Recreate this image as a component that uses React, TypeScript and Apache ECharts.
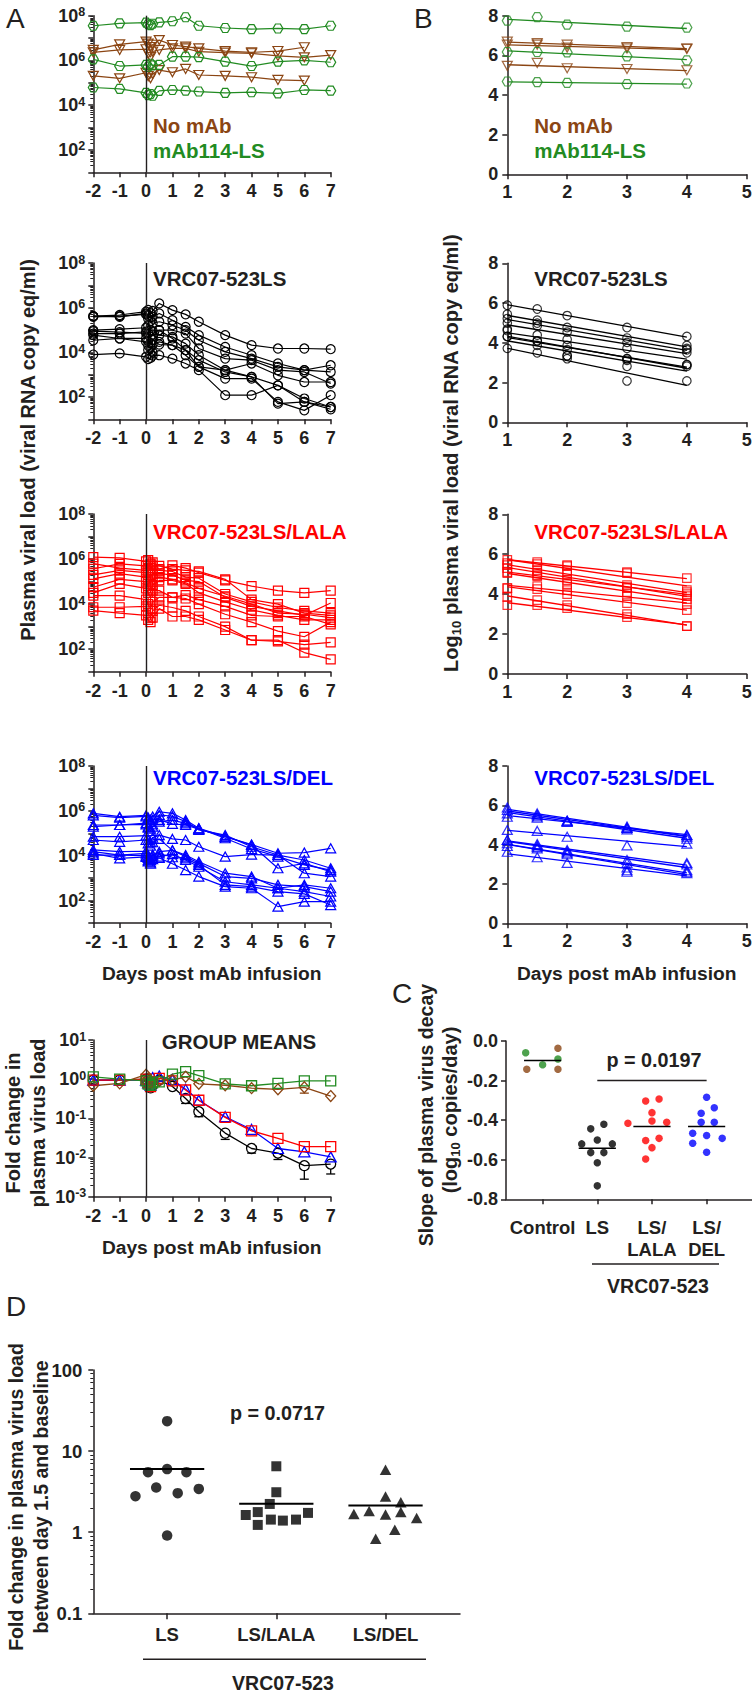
import React, { useEffect, useRef } from 'react';
import * as echarts from 'echarts';

// ---------------- data (log10 viral load per animal) ----------------
const TIMES = [-2, -1, 0, 0.08, 0.17, 0.25, 0.5, 1, 1.5, 2, 3, 4, 5, 6, 7];
const FIT_DAYS = [1, 1.5, 2, 3, 4];
const A_X_TICKS = [-2, 7];
const B_X_RANGE = [1, 5];

const NO_MAB: (number | null)[][] = [
  [6.47, 6.72, 6.84, 6.75, 6.6, 6.7, 6.91, 6.69, 6.62, 6.54, 6.42, 6.36, 6.42, 6.59, null],
  [6.36, 6.47, 6.5, 6.3, 6.15, 6.4, 6.47, 6.54, 6.54, 6.39, 6.35, 6.32, 6.2, 6.14, 6.24],
  [5.31, 5.2, 5.45, 5.3, 5.2, 5.4, 5.57, 5.47, 5.62, 5.35, 5.31, 5.25, 5.13, 5.1, null],
];
const MAB114: (number | null)[][] = [
  [7.55, 7.66, 7.69, 7.62, 7.58, 7.64, 7.7, 7.75, 7.93, 7.55, 7.45, 7.4, 7.43, 7.4, 7.55],
  [6.05, 5.75, 5.8, 5.72, 5.85, 5.78, 5.8, 6.17, 6.17, 6.15, 5.95, 5.75, 5.95, 6.0, 5.92],
  [4.79, 4.73, 4.55, 4.45, 4.5, 4.42, 4.64, 4.68, 4.65, 4.61, 4.55, 4.58, 4.53, 4.68, 4.65],
];
const VRC_LS: (number | null)[][] = [
  [5.62, 5.67, 5.82, 5.9, 5.75, 5.85, 6.19, 5.89, 5.7, 5.37, 4.77, 4.32, 4.17, 4.17, 4.14],
  [5.62, 5.59, 5.74, 5.65, 5.55, 5.6, 5.74, 5.44, 5.14, 4.77, 4.24, 3.87, 3.5, 3.2, 3.12],
  [5.59, 5.62, 5.7, 5.5, 5.4, 5.3, 5.37, 5.22, 4.99, 4.54, 4.02, 3.72, 3.35, 3.2, 3.42],
  [4.99, 5.04, 5.1, 5.2, 5.0, 4.95, 4.99, 4.99, 4.84, 4.17, 3.72, 3.65, 3.2, 3.12, 2.6],
  [4.84, 4.84, 4.92, 4.85, 4.7, 4.8, 4.77, 4.69, 4.39, 3.87, 3.2, 3.5, 2.97, 2.67, 2.67],
  [4.77, 4.62, 4.62, 4.5, 4.4, 4.55, 4.35, 4.32, 4.1, 3.65, 3.12, 2.9, 2.52, 1.93, 1.55],
  [4.54, 4.62, 4.47, 4.3, 4.2, 4.35, 4.47, 4.32, 3.87, 3.35, 2.82, 2.82, 1.78, 1.4, 2.08],
  [3.9, 3.95, 3.8, 3.7, 3.75, 3.85, 3.87, 3.72, 3.5, 3.2, 2.08, 2.08, 2.52, 1.78, 1.45],
  [4.95, 4.9, 4.85, 4.1, 3.9, 4.0, 4.99, 4.62, 4.1, 3.35, 3.2, 2.9, 1.7, 1.78, 1.55],
];
const VRC_LALA: (number | null)[][] = [
  [6.09, 6.05, 5.9, 5.95, 5.8, 5.85, 5.55, 5.72, 5.6, 5.4, 5.05, 4.8, 4.6, 4.5, 4.6],
  [5.57, 5.79, 5.7, 5.6, 5.75, 5.5, 5.5, 5.45, 5.2, 5.15, 4.45, 4.1, 3.85, 3.7, 3.6],
  [5.3, 5.5, 5.4, 5.3, 5.2, 5.35, 5.35, 5.3, 5.05, 5.0, 4.3, 3.9, 3.7, 3.5, 4.05],
  [5.12, 5.35, 5.2, 5.05, 4.9, 5.1, 5.2, 5.1, 4.95, 4.7, 4.35, 4.0, 3.6, 3.55, 3.4],
  [4.75, 5.1, 5.0, 4.8, 4.6, 4.85, 5.05, 5.05, 4.9, 4.5, 4.1, 3.75, 3.5, 3.3, 3.3],
  [4.5, 4.9, 4.7, 4.5, 4.3, 4.6, 4.6, 4.3, 4.25, 4.0, 3.55, 3.2, 2.8, 2.55, 3.2],
  [4.38, 4.38, 4.2, 4.0, 3.8, 4.1, 4.3, 4.3, 4.4, 4.2, 3.9, 3.5, 3.45, 3.45, 3.1],
  [3.86, 3.86, 3.9, 3.6, 3.4, 3.7, 3.95, 3.85, 3.7, 3.45, 3.0, 2.4, 2.35, 2.2, 2.3],
  [3.71, 3.6, 3.5, 3.3, 3.2, 3.4, 3.8, 3.45, 3.45, 3.3, 2.85, 2.4, 2.4, 1.85, 1.55],
  [5.8, 5.6, 5.5, 5.4, 5.6, 5.7, 5.7, 5.55, 5.5, 5.45, 5.1, 4.2, 4.0, 3.6, 3.5],
];
const VRC_DEL: (number | null)[][] = [
  [5.89, 5.74, 5.8, 5.7, 5.6, 5.75, 5.96, 5.89, 5.59, 5.22, 4.85, 4.5, 4.11, 4.14, 4.33],
  [5.8, 5.7, 5.75, 5.65, 5.5, 5.6, 5.82, 5.76, 5.52, 5.15, 4.92, 4.4, 4.03, 3.81, 3.44],
  [5.37, 5.37, 5.45, 5.3, 5.2, 5.4, 5.52, 5.59, 5.44, 5.22, 4.78, 4.3, 3.96, 3.59, 3.36],
  [5.3, 5.37, 5.4, 5.25, 5.1, 5.3, 5.6, 5.42, 5.37, 5.18, 4.85, 4.48, 3.44, 3.66, 3.29],
  [4.85, 4.85, 4.9, 4.7, 4.6, 4.8, 4.92, 4.75, 4.7, 4.4, 3.96, 4.05, 4.03, 3.22, 3.07],
  [4.18, 4.03, 4.1, 3.9, 3.8, 4.0, 4.18, 4.24, 3.96, 3.66, 3.07, 2.99, 2.7, 2.62, 2.4],
  [4.03, 4.03, 4.0, 3.8, 3.7, 3.9, 3.96, 4.07, 3.81, 3.51, 2.84, 2.7, 2.55, 2.4, 2.18],
  [4.1, 3.88, 3.95, 3.75, 3.65, 3.85, 3.9, 3.64, 3.36, 3.07, 2.62, 2.55, 1.73, 1.95, 1.95],
  [4.26, 4.18, 4.2, 4.0, 3.85, 4.05, 4.1, 3.93, 3.88, 3.59, 2.7, 2.62, 2.4, 2.3, 1.8],
  [4.7, 4.62, 4.7, 4.55, 4.45, 4.6, 4.75, 4.24, 4.03, 3.73, 3.22, 3.07, 2.55, 2.7, 2.55],
];

// group means (fold change vs baseline), aligned with TIMES
const GM_LS = [0.95, 0.95, 1.0, 0.75, 0.6, 0.7, 0.95, 0.65, 0.32, 0.148, 0.042, 0.017, 0.013, 0.0062, 0.0068];
const GM_LS_LOW = [null, null, null, null, null, null, null, null, 0.24, 0.11, 0.029, 0.013, 0.0089, 0.0028, 0.0038];
const GM_LALA = [0.95, 0.95, 1.0, 0.8, 0.65, 0.85, 1.05, 0.9, 0.53, 0.29, 0.106, 0.048, 0.031, 0.019, 0.019];
const GM_DEL = [0.95, 0.95, 0.95, 0.8, 0.7, 1.1, 1.2, 0.97, 0.55, 0.29, 0.11, 0.052, 0.017, 0.014, 0.0104];
const GM_MAB114 = [1.15, 1.0, 0.9, 0.75, 0.7, 0.8, 0.85, 1.35, 1.55, 1.23, 0.76, 0.68, 0.78, 0.91, 0.91];
const GM_NOMAB = [0.68, 0.78, 1.3, 1.05, 0.9, 0.85, 0.9, 0.95, 1.15, 0.76, 0.7, 0.59, 0.55, 0.62, 0.37];
const GM_NOMAB_LOW = [null, null, null, null, null, null, null, null, null, null, null, null, null, 0.44, null];

// panel C: slope of decay (log10 copies/day)
const C_CATEGORIES = ['Control', 'LS', 'LS/\nLALA', 'LS/\nDEL'];
const C_CTRL_GREEN = [-0.059, -0.12, -0.091];
const C_CTRL_GREEN_JIT = [-0.31, 0, 0.28];
const C_CTRL_BROWN = [-0.037, -0.143, -0.143];
const C_CTRL_BROWN_JIT = [0.28, -0.29, 0.28];
const C_LS = [-0.444, -0.421, -0.52, -0.5, -0.52, -0.564, -0.564, -0.615, -0.732];
const C_LS_JIT = [-0.12, 0.12, -0.285, 0, 0.275, -0.12, 0.12, 0, 0];
const C_LALA = [-0.303, -0.293, -0.362, -0.416, -0.404, -0.411, -0.503, -0.492, -0.539, -0.596];
const C_LALA_JIT = [-0.115, 0.13, 0, -0.44, 0, 0.27, -0.115, 0.13, 0, -0.115];
const C_DEL = [-0.284, -0.337, -0.365, -0.411, -0.411, -0.466, -0.478, -0.492, -0.517, -0.562];
const C_DEL_JIT = [0, 0.14, -0.1, -0.1, 0.14, -0.255, 0, 0.285, -0.255, 0];
const C_P = 'p = 0.0197';

// panel D: fold change between day 1.5 and baseline
const D_CATEGORIES = ['LS', 'LS/LALA', 'LS/DEL'];
const D_LS = [23.4, 5.5, 6.0, 5.5, 2.78, 3.55, 3.03, 3.42, 0.91];
const D_LS_JIT = [0, -0.175, 0, 0.177, -0.29, -0.1, 0.097, 0.29, 0];
const D_LALA = [6.5, 3.11, 2.23, 1.63, 1.77, 1.23, 1.43, 1.39, 1.43, 1.73];
const D_LALA_JIT = [0, 0, -0.06, -0.28, -0.17, -0.17, -0.05, 0.06, 0.18, 0.29];
const D_DEL = [5.9, 2.75, 2.34, 1.68, 1.82, 1.65, 1.77, 1.5, 1.07, 0.83];
const D_DEL_JIT = [0, 0, 0.14, -0.29, -0.15, 0, 0.14, 0.285, 0.085, -0.09];
const D_P = 'p = 0.0717';

// ---------------- styling ----------------
const INK = '#231f20';
const GREEN = '#228b22';
const BROWN = '#8b4513';
const RED = '#ff0000';
const BLUE = '#0000ff';
const BLACK = '#000000';
const FONT = 'Arial, "Liberation Sans", Helvetica, sans-serif';
const HEX = 'path://M2.6,0 L7.4,0 L10,5 L7.4,10 L2.6,10 L0,5 Z';
const DOWN = 'path://M0,0 L10,0 L5,9 Z';
const CLEAR = 'rgba(255,255,255,0)';

const AX = { color: INK, width: 1.5 };

const SUP_RICH = {
  b: { fontSize: 18, fontWeight: 'bold', fontFamily: FONT, color: INK, lineHeight: 20, verticalAlign: 'middle' },
  s: { fontSize: 12.5, fontWeight: 'bold', fontFamily: FONT, color: INK, lineHeight: 14, verticalAlign: 'top' },
};

function xVal(gridIndex: number, min: number, max: number, interval: number, margin: number) {
  return {
    type: 'value', gridIndex, min, max, interval,
    axisLine: { show: true, onZero: false, lineStyle: AX },
    axisTick: { show: true, length: 5, lineStyle: AX },
    axisLabel: { color: INK, fontFamily: FONT, fontWeight: 'bold', fontSize: 18, margin },
    splitLine: { show: false },
  };
}

function yLog(gridIndex: number, min: number, max: number, every: number, margin = 8) {
  return {
    type: 'log', logBase: 10, gridIndex, min, max,
    axisLine: { show: true, onZero: false, lineStyle: AX },
    axisTick: { show: true, length: 5, lineStyle: AX },
    minorTick: { show: true, splitNumber: 9, length: 3, lineStyle: { color: INK, width: 1 } },
    splitLine: { show: false },
    minorSplitLine: { show: false },
    axisLabel: {
      margin, color: INK, fontFamily: FONT, fontWeight: 'bold', fontSize: 18,
      formatter: (v: number) => {
        const e = Math.round(Math.log10(v));
        if (every === 2 && e % 2 !== 0) return '';
        return `{b|10}{s|${e}}`;
      },
      rich: SUP_RICH,
    },
  };
}

function yLin(gridIndex: number, min: number, max: number, interval: number, margin: number, fmt?: (v: number) => string) {
  return {
    type: 'value', gridIndex, min, max, interval,
    axisLine: { show: true, onZero: false, lineStyle: AX },
    axisTick: { show: true, length: 5, lineStyle: AX },
    axisLabel: { color: INK, fontFamily: FONT, fontWeight: 'bold', fontSize: 18, margin, formatter: fmt },
    splitLine: { show: false },
  };
}

function txt(x: number, y: number, text: string, o: any = {}) {
  const size = o.size || 20;
  const weight = o.weight || 'bold';
  return {
    type: 'text', x, y, rotation: o.rot || 0, silent: true, z: 100,
    style: {
      text,
      fill: o.color || INK,
      font: `${weight} ${size}px ${FONT}`,
      align: o.align || 'center',
      verticalAlign: 'middle',
      rich: o.rich,
    },
  };
}

function buildOption() {
  const grids = [
    { left: 93.3, top: 15.7, width: 237.4, height: 156.6 },
    { left: 93.3, top: 263, width: 237.4, height: 156.3 },
    { left: 93.3, top: 514, width: 237.4, height: 157.7 },
    { left: 93.3, top: 766, width: 237.4, height: 157 },
    { left: 93.3, top: 1040, width: 237.4, height: 156.7 },
    { left: 507.3, top: 15.7, width: 239.4, height: 158.6 },
    { left: 507.3, top: 263.3, width: 239.4, height: 159 },
    { left: 507.3, top: 514.3, width: 239.4, height: 159.7 },
    { left: 507.3, top: 766, width: 239.4, height: 157.3 },
    { left: 506, top: 1041, width: 246, height: 158.3 },
    { left: 93.3, top: 1370, width: 366.7, height: 243.3 },
  ].map((g) => ({ ...g, containLabel: false, outerBoundsMode: 'none', show: false }));

  const xAxis: any[] = [];
  const yAxis: any[] = [];
  for (let i = 0; i < 5; i++) {
    xAxis.push(xVal(i, A_X_TICKS[0], A_X_TICKS[1], 1, 10));
  }
  for (let i = 5; i < 9; i++) {
    xAxis.push(xVal(i, B_X_RANGE[0], B_X_RANGE[1], 1, 9));
  }
  xAxis.push({
    type: 'value', gridIndex: 9, min: 0.33, max: 4.83,
    axisLine: { show: true, onZero: false, lineStyle: AX },
    axisTick: { show: true, length: 5, lineStyle: AX, customValues: [1, 2, 3, 4] },
    axisLabel: {
      customValues: [1, 2, 3, 4], color: INK, fontFamily: FONT, fontWeight: 'bold', fontSize: 18.5,
      lineHeight: 22, margin: 17, formatter: (v: number) => C_CATEGORIES[Math.round(v) - 1] || '',
    },
    splitLine: { show: false },
  });
  xAxis.push({
    type: 'value', gridIndex: 10, min: 0.324, max: 3.682,
    axisLine: { show: true, onZero: false, lineStyle: AX },
    axisTick: { show: true, length: 6, lineStyle: AX, customValues: [1, 2, 3] },
    axisLabel: {
      customValues: [1, 2, 3], color: INK, fontFamily: FONT, fontWeight: 'bold', fontSize: 18.5,
      margin: 12, formatter: (v: number) => D_CATEGORIES[Math.round(v) - 1] || '',
    },
    splitLine: { show: false },
  });

  for (let i = 0; i < 4; i++) yAxis.push(yLog(i, 10, 1e8, 2));
  yAxis.push(yLog(4, 0.001, 10, 1, 7));
  for (let i = 5; i < 9; i++) yAxis.push(yLin(i, 0, 8, 2, 9));
  yAxis.push(yLin(9, -0.8, 0, 0.2, 8, (v: number) => v.toFixed(1)));
  yAxis.push({
    type: 'log', logBase: 10, gridIndex: 10, min: 0.1, max: 100,
    axisLine: { show: true, onZero: false, lineStyle: AX },
    axisTick: { show: true, length: 5, lineStyle: AX },
    minorTick: { show: true, splitNumber: 9, length: 3, lineStyle: { color: INK, width: 1 } },
    splitLine: { show: false },
    axisLabel: {
      margin: 11, color: INK, fontFamily: FONT, fontWeight: 'bold', fontSize: 18.5,
      formatter: (v: number) => (v < 0.5 ? '0.1' : String(Math.round(v))),
    },
  });

  const series: any[] = [];
  const zeroLine = {
    silent: true, symbol: ['none', 'none'], label: { show: false },
    lineStyle: { color: INK, width: 1.4, type: 'solid' }, data: [{ xAxis: 0 }],
  };

  const addA = (idx: number, animals: (number | null)[][], color: string, symbol: string, size: any, first: boolean) => {
    animals.forEach((a, k) => {
      const data = TIMES.map((t, i) => [t, a[i]]).filter((p) => p[1] != null).map((p) => [p[0], Math.pow(10, p[1] as number)]);
      series.push({
        type: 'line', xAxisIndex: idx, yAxisIndex: idx, data, symbol, symbolSize: size, showSymbol: true,
        lineStyle: { color, width: 1.2 }, itemStyle: { color: CLEAR, borderColor: color, borderWidth: 1.2 },
        silent: true, z: 3,
        markLine: first && k === 0 ? zeroLine : undefined,
      });
    });
  };
  addA(0, NO_MAB, BROWN, DOWN, [10, 9], true);
  addA(0, MAB114, GREEN, HEX, [10, 9], false);
  addA(1, VRC_LS, BLACK, 'circle', 9, true);
  addA(2, VRC_LALA, RED, 'rect', 9, true);
  addA(3, VRC_DEL, BLUE, 'triangle', [10, 9], true);

  const addB = (idx: number, animals: (number | null)[][], color: string, symbol: string, size: any) => {
    animals.forEach((a) => {
      const pts = FIT_DAYS.map((d) => [d, a[TIMES.indexOf(d)] as number]);
      const n = pts.length;
      const mx = pts.reduce((s, p) => s + p[0], 0) / n;
      const my = pts.reduce((s, p) => s + p[1], 0) / n;
      const sxy = pts.reduce((s, p) => s + (p[0] - mx) * (p[1] - my), 0);
      const sxx = pts.reduce((s, p) => s + (p[0] - mx) * (p[0] - mx), 0);
      const slope = sxy / sxx;
      const icpt = my - slope * mx;
      series.push({
        type: 'line', xAxisIndex: idx, yAxisIndex: idx, symbol: 'none', silent: true, z: 2,
        data: [[FIT_DAYS[0], icpt + slope * FIT_DAYS[0]], [FIT_DAYS[n - 1], icpt + slope * FIT_DAYS[n - 1]]],
        lineStyle: { color, width: 1.3 },
      });
      series.push({
        type: 'scatter', xAxisIndex: idx, yAxisIndex: idx, data: pts, symbol, symbolSize: size, silent: true, z: 3,
        itemStyle: { color: CLEAR, borderColor: color, borderWidth: 1.2 },
      });
    });
  };
  addB(5, NO_MAB, BROWN, DOWN, [10, 9]);
  addB(5, MAB114, GREEN, HEX, [10, 9]);
  addB(6, VRC_LS, BLACK, 'circle', 8.5);
  addB(7, VRC_LALA, RED, 'rect', 8.5);
  addB(8, VRC_DEL, BLUE, 'triangle', [10, 9]);

  // group means
  const gm = (vals: number[], color: string, symbol: string, size: any, withLine: boolean) => {
    series.push({
      type: 'line', xAxisIndex: 4, yAxisIndex: 4, data: TIMES.map((t, i) => [t, vals[i]]),
      symbol, symbolSize: size, silent: true, z: 3,
      lineStyle: { color, width: 1.3 }, itemStyle: { color: CLEAR, borderColor: color, borderWidth: 1.3 },
      markLine: withLine ? zeroLine : undefined,
    });
  };
  const errBars = (vals: number[], lows: (number | null)[], color: string) => {
    series.push({
      type: 'custom', xAxisIndex: 4, yAxisIndex: 4, silent: true, z: 2,
      data: TIMES.map((t, i) => (lows[i] == null ? null : [t, vals[i], lows[i]])).filter((d) => d),
      encode: { x: 0, y: [1, 2] },
      renderItem: (_p: any, api: any) => {
        const top = api.coord([api.value(0), api.value(1)]);
        const bot = api.coord([api.value(0), api.value(2)]);
        const y1 = Math.min(top[1] + 5, bot[1]);
        return {
          type: 'group',
          children: [
            { type: 'line', shape: { x1: top[0], y1, x2: bot[0], y2: bot[1] }, style: { stroke: color, lineWidth: 1.3 } },
            { type: 'line', shape: { x1: bot[0] - 4.5, y1: bot[1], x2: bot[0] + 4.5, y2: bot[1] }, style: { stroke: color, lineWidth: 1.3 } },
          ],
        };
      },
    });
  };
  errBars(GM_LS, GM_LS_LOW, BLACK);
  errBars(GM_NOMAB, GM_NOMAB_LOW, BROWN);
  gm(GM_LS, BLACK, 'circle', 10, true);
  gm(GM_DEL, BLUE, 'triangle', [11, 10], false);
  gm(GM_LALA, RED, 'rect', 10, false);
  gm(GM_NOMAB, BROWN, 'diamond', [10, 11], false);
  gm(GM_MAB114, GREEN, 'rect', 10, false);

  // panel C
  const cDots = (vals: number[], jit: number[], center: number, color: string) => {
    series.push({
      type: 'scatter', xAxisIndex: 9, yAxisIndex: 9, symbol: 'circle', symbolSize: 7.5, silent: true, z: 3,
      data: vals.map((v, i) => [center + jit[i], v]), itemStyle: { color },
    });
  };
  cDots(C_CTRL_GREEN, C_CTRL_GREEN_JIT, 1, GREEN);
  cDots(C_CTRL_BROWN, C_CTRL_BROWN_JIT, 1, BROWN);
  cDots(C_LS, C_LS_JIT, 2, BLACK);
  cDots(C_LALA, C_LALA_JIT, 3, RED);
  cDots(C_DEL, C_DEL_JIT, 4, BLUE);
  const mean = (v: number[]) => v.reduce((s, x) => s + x, 0) / v.length;
  const meanBar = (idx: number, center: number, m: number, w: number) => {
    series.push({
      type: 'line', xAxisIndex: idx, yAxisIndex: idx, symbol: 'none', silent: true, z: 4,
      data: [[center - 0.34, m], [center + 0.34, m]], lineStyle: { color: BLACK, width: w },
    });
  };
  meanBar(9, 1, mean([...C_CTRL_GREEN, ...C_CTRL_BROWN]), 1.5);
  meanBar(9, 2, mean(C_LS), 1.5);
  meanBar(9, 3, mean(C_LALA), 1.5);
  meanBar(9, 4, mean(C_DEL), 1.5);
  series.push({
    type: 'line', xAxisIndex: 9, yAxisIndex: 9, symbol: 'none', silent: true,
    data: [[2, -0.2], [4, -0.2]], lineStyle: { color: INK, width: 1.5 },
  });

  // panel D
  const dDots = (vals: number[], jit: number[], center: number, symbol: string, size: any) => {
    series.push({
      type: 'scatter', xAxisIndex: 10, yAxisIndex: 10, symbol, symbolSize: size, silent: true, z: 3,
      data: vals.map((v, i) => [center + jit[i], v]), itemStyle: { color: BLACK },
    });
  };
  dDots(D_LS, D_LS_JIT, 1, 'circle', 10.5);
  dDots(D_LALA, D_LALA_JIT, 2, 'rect', 10);
  dDots(D_DEL, D_DEL_JIT, 3, 'triangle', [11.5, 10.5]);
  meanBar(10, 1, mean(D_LS), 2);
  meanBar(10, 2, mean(D_LALA), 2);
  meanBar(10, 3, mean(D_DEL), 2);

  const subRich = {
    a: { fontSize: 20, fontWeight: 'bold', fontFamily: FONT, fill: INK, color: INK, lineHeight: 22, verticalAlign: 'top' },
    s: { fontSize: 13, fontWeight: 'bold', fontFamily: FONT, fill: INK, color: INK, lineHeight: 13, verticalAlign: 'bottom' },
  };

  const ROT = Math.PI / 2;
  const graphic: any[] = [
    txt(6, 18, 'A', { size: 28, weight: 'normal', align: 'left' }),
    txt(414, 18, 'B', { size: 28, weight: 'normal', align: 'left' }),
    txt(392, 993, 'C', { size: 28, weight: 'normal', align: 'left' }),
    txt(6, 1306, 'D', { size: 28, weight: 'normal', align: 'left' }),

    txt(153, 125, 'No mAb', { color: BROWN, align: 'left', size: 20.5 }),
    txt(153, 150, 'mAb114-LS', { color: GREEN, align: 'left', size: 20.5 }),
    txt(534.3, 125, 'No mAb', { color: BROWN, align: 'left', size: 20.5 }),
    txt(534.3, 150, 'mAb114-LS', { color: GREEN, align: 'left', size: 20.5 }),
    txt(153, 278, 'VRC07-523LS', { align: 'left', size: 20.5 }),
    txt(534.3, 278, 'VRC07-523LS', { align: 'left', size: 20.5 }),
    txt(153, 531, 'VRC07-523LS/LALA', { color: RED, align: 'left', size: 20.5 }),
    txt(534.3, 531, 'VRC07-523LS/LALA', { color: RED, align: 'left', size: 20.5 }),
    txt(153, 777, 'VRC07-523LS/DEL', { color: BLUE, align: 'left', size: 20.5 }),
    txt(534.3, 777, 'VRC07-523LS/DEL', { color: BLUE, align: 'left', size: 20.5 }),
    txt(161.7, 1041, 'GROUP MEANS', { align: 'left', size: 20.5 }),

    txt(28, 450, 'Plasma viral load (viral RNA copy eq/ml)', { rot: ROT }),
    txt(452, 453, '{a|Log}{s|10}{a| plasma viral load (viral RNA copy eq/ml)}', { rot: ROT, rich: subRich }),
    txt(12.5, 1123, 'Fold change in', { rot: ROT }),
    txt(37.5, 1123, 'plasma virus load', { rot: ROT }),
    txt(425.5, 1115, 'Slope of plasma virus decay', { rot: ROT, size: 19.5 }),
    txt(450.5, 1110, '{a|(log}{s|10}{a| copies/day)}', { rot: ROT, rich: subRich }),
    txt(16, 1497, 'Fold change in plasma virus load', { rot: ROT, size: 19.5 }),
    txt(41, 1497, 'between day 1.5 and baseline', { rot: ROT, size: 19.5 }),

    txt(211.7, 973, 'Days post mAb infusion', { size: 19.2 }),
    txt(626.7, 973, 'Days post mAb infusion', { size: 19.2 }),
    txt(211.7, 1247, 'Days post mAb infusion', { size: 19.2 }),

    txt(654, 1060, C_P, { size: 19.8 }),
    txt(277.5, 1413, D_P, { size: 19.8 }),
    { type: 'line', silent: true, shape: { x1: 592, y1: 1264, x2: 719, y2: 1264 }, style: { stroke: INK, lineWidth: 1.5 } },
    txt(658, 1286, 'VRC07-523', { size: 19.5 }),
    { type: 'line', silent: true, shape: { x1: 143, y1: 1659.3, x2: 426, y2: 1659.3 }, style: { stroke: INK, lineWidth: 1.5 } },
    txt(283, 1683.3, 'VRC07-523', { size: 19.5 }),
  ];

  return {
    animation: false,
    backgroundColor: '#ffffff',
    textStyle: { fontFamily: FONT },
    grid: grids,
    xAxis,
    yAxis,
    series,
    graphic,
  };
}

export default function App() {
  const ref = useRef<HTMLDivElement>(null);
  useEffect(() => {
    document.body.style.margin = '0';
    const chart = echarts.init(ref.current as HTMLDivElement, null, { renderer: 'svg' });
    chart.setOption(buildOption() as any);
    return () => chart.dispose();
  }, []);
  return <div ref={ref} style={{ position: 'absolute', left: 0, top: 0, width: 752, height: 1698 }} />;
}
